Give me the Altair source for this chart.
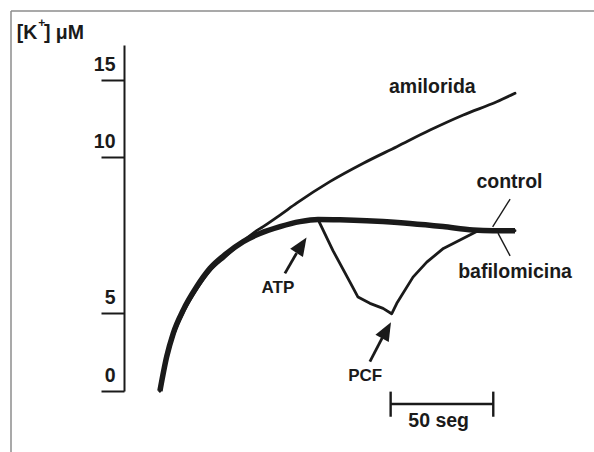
import altair as alt
import pandas as pd

# Time (s) and [K+] (µM) readings for each trace
ctrl_t = [0, 3.3, 6.5, 11.4, 17.9, 24.4, 32.5, 40.6, 48.7, 58.5, 68.2, 77.0,
          87.7, 100.7, 108.7, 121.8, 137.9, 152.5, 162.3, 173.0]
ctrl_v = [0, 2.2, 3.7, 5.1, 5.84, 6.43, 6.91, 7.29, 7.55, 7.77, 7.93, 8.0,
          7.99, 7.96, 7.93, 7.87, 7.77, 7.66, 7.64, 7.64]

amil_t = [0, 3.4, 6.8, 11.7, 18.0, 24.4, 31.7, 39.0, 46.3, 50.3, 58.5, 66.6,
          82.8, 99.1, 115.4, 131.6, 147.8, 164.1, 173.0]
amil_v = [0, 2.18, 3.65, 5.06, 5.77, 6.35, 6.79, 7.21, 7.60, 7.77, 8.14, 8.52,
          9.21, 9.80, 10.67, 11.75, 12.73, 13.59, 14.14]

# bafilomicina follows the control rise, dips after ATP and recovers after PCF
dip_t = [84.3, 92.6, 96.5, 102.3, 108.7, 112.9, 115.4, 123.3, 130.0, 138.1,
         146.2, 154.3, 162.3, 173.0]
dip_v = [7.00, 5.99, 5.51, 5.31, 5.15, 4.95, 5.31, 6.15, 6.63, 7.07,
         7.34, 7.61, 7.64, 7.64]
bafi_t = ctrl_t[:12] + dip_t
bafi_v = ctrl_v[:12] + dip_v

y_ticks = [0, 5, 10, 15]
scale_bar_s = 50

FONT = "Liberation Sans"
INK = "#1a1a1a"

ctrl = pd.DataFrame({"t": ctrl_t, "v": ctrl_v})
amil = pd.DataFrame({"t": amil_t, "v": amil_v})
rise = pd.DataFrame({"t": bafi_t[:12], "v": bafi_v[:12]})
dip = pd.DataFrame({"t": bafi_t[11:], "v": bafi_v[11:]})

# piecewise vertical scale, as the printed axis is not evenly spaced
yscale = alt.Scale(domain=[0, 5, 10, 15, 17.27], range=[346, 268, 112, 35, 0],
                   zero=False, nice=False)
xscale = alt.Scale(domain=[-17.5, 206.6], zero=False, nice=False)

yaxis = alt.Axis(values=y_ticks, grid=False, title=None,
                 domainColor=INK, domainWidth=2, tickColor=INK, tickWidth=2,
                 tickSize=23, labelFont=FONT, labelFontWeight="bold",
                 labelFontSize=19.5, labelColor=INK, labelAlign="right",
                 labelBaseline="alphabetic", labelPadding=-14, labelOffset=-10,
                 labelFlush=False)


def X(f="t"):
    return alt.X(f, type="quantitative", scale=xscale, axis=None)


def Y(f="v"):
    return alt.Y(f, type="quantitative", scale=yscale, axis=yaxis)


def trace(df, width, interp="monotone", cap="round"):
    return alt.Chart(df).mark_line(color=INK, strokeWidth=width,
                                   interpolate=interp, strokeCap=cap,
                                   strokeJoin="round").encode(x=X(), y=Y())


lines = [
    trace(amil, 2.8),
    trace(rise, 2.8),
    trace(dip, 2.8, "linear"),
    trace(ctrl, 5.5, "monotone", "butt"),
]

# arrow shafts, leaders and the 50 s scale bar
segs = pd.DataFrame({
    "t": [60.9, 102.3, 170.6, 164.7, 112.4, 112.4, 112.4 + scale_bar_s],
    "v": [6.27, 1.88, 8.65, 7.56, -0.83, -0.04, -0.04],
    "t2": [66.6, 108.3, 162.1, 170.6, 112.4 + scale_bar_s, 112.4, 112.4 + scale_bar_s],
    "v2": [6.92, 3.40, 7.76, 6.83, -0.83, -1.65, -1.65],
    "w": [2.8, 2.8, 1.4, 1.4, 2.4, 2.4, 2.4],
})
rules = alt.Chart(segs).mark_rule(color=INK).encode(
    x=X(), y=Y(), x2="t2:Q", y2="v2:Q",
    strokeWidth=alt.StrokeWidth("w:Q", scale=None))

heads = pd.DataFrame({"t": [69.0, 110.4], "v": [7.17, 3.89], "ang": [33, 29]})
arrowheads = alt.Chart(heads).mark_point(
    shape="M0,-1L0.83,1L-0.83,1Z", filled=True, opacity=1, color=INK, size=335
).encode(x=X(), y=Y(), angle=alt.Angle("ang:Q", scale=None))

big = pd.DataFrame({
    "t": [132.7, 170.3, 173.0, 135.8],
    "v": [14.18, 9.01, 6.12, -2.29],
    "label": ["amilorida", "control", "bafilomicina", f"{scale_bar_s} seg"],
})
small = pd.DataFrame({"t": [57.5, 100.0], "v": [5.63, 0.64], "label": ["ATP", "PCF"]})


def labels(df, size, align="center"):
    return alt.Chart(df).mark_text(font=FONT, fontWeight="bold", fontSize=size,
                                   color=INK, align=align,
                                   baseline="alphabetic").encode(
        x=X(), y=Y(), text="label:N")


unit_a = pd.DataFrame({"t": [-69.8], "v": [17.69], "label": ["[K"]})
unit_b = pd.DataFrame({"t": [-59.3], "v": [18.45], "label": ["+"]})
unit_c = pd.DataFrame({"t": [-56.5], "v": [17.69], "label": ["] \u03bcM"]})

# figure border (top and left edges)
frame_top = alt.Chart(pd.DataFrame({"k": [0]})).mark_rule(
    color="#8c8c8c", strokeWidth=1.5).encode(
    x=alt.value(-113), x2=alt.value(470), y=alt.value(-34))
frame_left = alt.Chart(pd.DataFrame({"k": [0]})).mark_rule(
    color="#8c8c8c", strokeWidth=1.5).encode(
    x=alt.value(-113), y=alt.value(-34), y2=alt.value(407))

chart = alt.layer(
    frame_top, frame_left, *lines, rules, arrowheads,
    labels(big, 19.5), labels(small, 17),
    labels(unit_a, 19.5, "left"), labels(unit_b, 12, "left"),
    labels(unit_c, 19.5, "left"),
).properties(
    width=460, height=346,
    padding={"left": 124, "top": 45, "right": 10, "bottom": 61},
    autosize=alt.AutoSizeParams(type="none"),
    background="white",
).configure_view(strokeWidth=0)

chart.save("out.html", embed_options={"renderer": "svg", "actions": False})
